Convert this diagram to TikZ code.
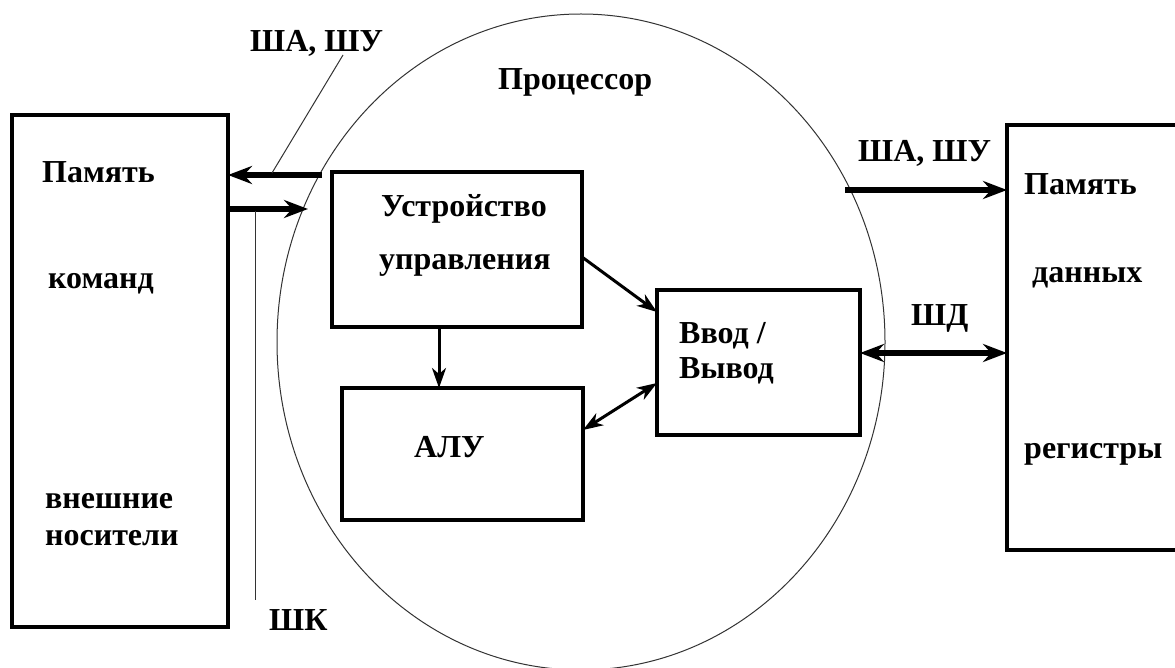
\documentclass[tikz,border=0pt]{standalone}
\usepackage{fontspec}
\setmainfont{Liberation Serif}
\usetikzlibrary{arrows.meta,shapes.geometric}
\begin{document}
\begin{tikzpicture}[x=1pt,y=-1pt,
  lbl/.style={font=\fontsize{32}{36}\selectfont\bfseries, inner sep=0pt, anchor=base west},
  blk/.style={draw=black, line width=3.5pt, inner sep=0pt, outer sep=0pt, rectangle},
  bus/.style={line width=6pt, -{Stealth[length=24pt,width=18pt,inset=8pt]}},
  busboth/.style={line width=6pt, {Stealth[length=24pt,width=18pt,inset=8pt]}-{Stealth[length=24pt,width=18pt,inset=8pt]}},
  link/.style={line width=3pt, -{Stealth[length=20pt,width=14pt,inset=6pt]}},
  linkboth/.style={line width=3pt, {Stealth[length=20pt,width=14pt,inset=6pt]}-{Stealth[length=20pt,width=14pt,inset=6pt]}},
  thin/.style={line width=1pt, draw=black!80}]
\useasboundingbox (0,0) rectangle (1175,668);
\clip (0,0) rectangle (1175,668);
\fill[white] (0,0) rectangle (1175,668);

% processor outline
\node[thin, ellipse, minimum width=608pt, minimum height=656pt, inner sep=0pt] (cpu) at (581,342) {};

% blocks
\node[blk, minimum width=216pt, minimum height=512pt] (imem) at (120,371) {};
\node[blk, minimum width=183pt, minimum height=425pt] (dmem) at (1098.5,337.5) {};
\node[blk, minimum width=250pt, minimum height=155pt] (uu) at (457,249.5) {};
\node[blk, minimum width=241pt, minimum height=132pt] (alu) at (462.5,454) {};
\node[blk, minimum width=203pt, minimum height=145pt] (io) at (758.5,362.5) {};

% texts
\node[lbl] (t1) at (250,52) {ША, ШУ};
\node[lbl] (t2) at (498,90) {Процессор};
\node[lbl] (t3) at (42,183) {Память};
\node[lbl] (t4) at (48,288) {команд};
\node[lbl] (t5) at (45,508) {внешние};
\node[lbl] (t6) at (45,545) {носители};
\node[lbl] (t7) at (381,217) {Устройство};
\node[lbl] (t8) at (379,270) {управления};
\node[lbl] (t9) at (679,343) {Ввод /};
\node[lbl] (t10) at (679,378) {Вывод};
\node[lbl] (t11) at (414,457) {АЛУ};
\node[lbl] (t12) at (858,162) {ША, ШУ};
\node[lbl] (t13) at (911,325) {ШД};
\node[lbl] (t14) at (269,630) {ШК};
\node[lbl] (t15) at (1024,195) {Память};
\node[lbl] (t16) at (1032,283) {данных};
\node[lbl] (t17) at (1024,458) {регистры};

% buses to the instruction memory
\coordinate (b1) at (322,175);
\coordinate (b2) at (308,209);
\draw[bus] (b1) -- (b1 -| imem.east);
\draw[bus] (b2 -| imem.east) -- (b2);
\coordinate (l1) at (343,55);
\coordinate (l1e) at (272,173);
\draw[thin] (l1) -- (l1e);
\coordinate (k1) at (255,211);
\coordinate (k2) at (255,600);
\draw[thin] (k1) -- (k2);

% internal links
\coordinate (c1) at (439,0);
\draw[link] (uu.south -| c1) -- (alu.north -| c1);
\coordinate (c2) at (0,257);
\coordinate (c3) at (0,312);
\draw[link] (uu.east |- c2) -- (io.west |- c3);
\coordinate (c4) at (0,430);
\coordinate (c5) at (0,383);
\draw[linkboth] (alu.east |- c4) -- (io.west |- c5);

% buses to the data memory
\coordinate (d1) at (845,190);
\draw[bus] (d1) -- (d1 -| dmem.west);
\coordinate (d2) at (0,353);
\draw[busboth] (io.east |- d2) -- (dmem.west |- d2);
\end{tikzpicture}
\end{document}
